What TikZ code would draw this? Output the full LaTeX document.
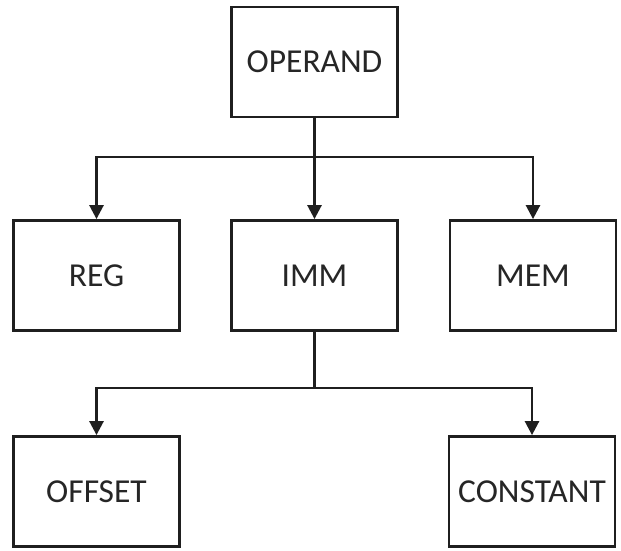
\documentclass[tikz,border=0pt]{standalone}
\usepackage{fontspec}
\setmainfont{Carlito}
\usetikzlibrary{arrows.meta}
\begin{document}
\begin{tikzpicture}[x=1pt,y=-1pt,
  box/.style={draw=black!88, line width=2.8pt, fill=white, minimum width=166pt,
    minimum height=110pt, inner sep=0pt, font=\fontsize{33.5}{40}\selectfont, text=black!85},
  conn/.style={draw=black!88, line width=2.6pt,
    -{Triangle[length=14pt,width=14pt]}},
  link/.style={draw=black!88, line width=2.6pt}]
\useasboundingbox (0,0) rectangle (621,550);
% boxes
\node[box] (operand) at (314.5,62) {OPERAND};
\node[box] (reg) at (96.5,275.5) {REG};
\node[box] (imm) at (314.5,275.5) {IMM};
\node[box] (mem) at (533,275.5) {MEM};
\node[box] (offset) at (96.5,491.5) {OFFSET};
\node[box] (constant) at (532,491.5) {CONSTANT};
% junction points of the bus lines
\coordinate (j1) at (314.5,157);
\coordinate (j2) at (314.5,388);
% operand to its three kinds
\draw[link] (operand.south) -- (j1);
\draw[conn] (j1) -| (reg.north);
\draw[conn] (j1) -- (imm.north);
\draw[conn] (j1) -| (mem.north);
% immediate to its two kinds
\draw[link] (imm.south) -- (j2);
\draw[conn] (j2) -| (offset.north);
\draw[conn] (j2) -| (constant.north);
\end{tikzpicture}
\end{document}
